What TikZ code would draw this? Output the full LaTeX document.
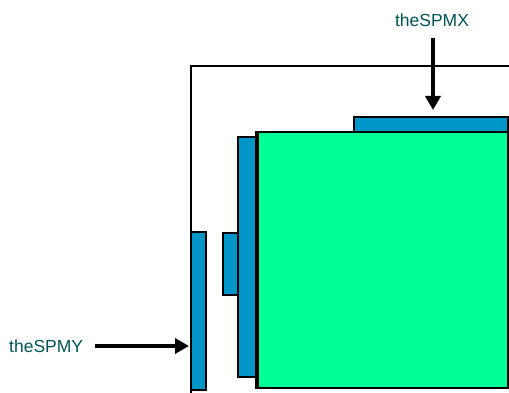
\documentclass[tikz,border=0pt]{standalone}
\usepackage{fontspec}
\setmainfont{Liberation Sans}
\usetikzlibrary{arrows.meta}
\definecolor{barblue}{RGB}{0,150,200}
\definecolor{sqgreen}{RGB}{0,255,150}
\definecolor{lbl}{RGB}{0,85,90}
\begin{document}
\begin{tikzpicture}[x=1pt,y=-1pt,
  bar/.style={draw=black,line width=2.2pt,fill=barblue},
  sq/.style={draw=black,line width=2.2pt,fill=sqgreen},
  frame/.style={draw=black,line width=2pt},
  lab/.style={text=lbl,font=\fontsize{17.5}{20}\selectfont,inner sep=0pt},
  arr/.style={draw=black,line width=4pt,-{Triangle[length=14pt,width=15pt]}}]
\useasboundingbox (0,0) rectangle (509,393);
\path[frame] (191,396) coordinate (f1) -- (191,66) coordinate (f2) -- (512,66) coordinate (f3);
\path[bar] (354,117) rectangle (508,132);
\path[bar] (238,137) rectangle (256,377);
\path[bar] (223,233) rectangle (238,295);
\path[sq] (256,132) rectangle (508,388);
\draw[line width=4pt] (256.5,131) -- (256.5,389);
\path[bar] (191,232) rectangle (206,390);
\node[lab] (lx) at (432,20) {theSPMX};
\node[lab,anchor=west] (ly) at (9,346) {theSPMY};
\coordinate (xs) at (433,38);
\coordinate (xe) at (433,110);
\coordinate (ys) at (95,346);
\coordinate (ye) at (189,346);
\draw[arr] (xs) -- (xe);
\draw[arr] (ys) -- (ye);
\end{tikzpicture}
\end{document}
